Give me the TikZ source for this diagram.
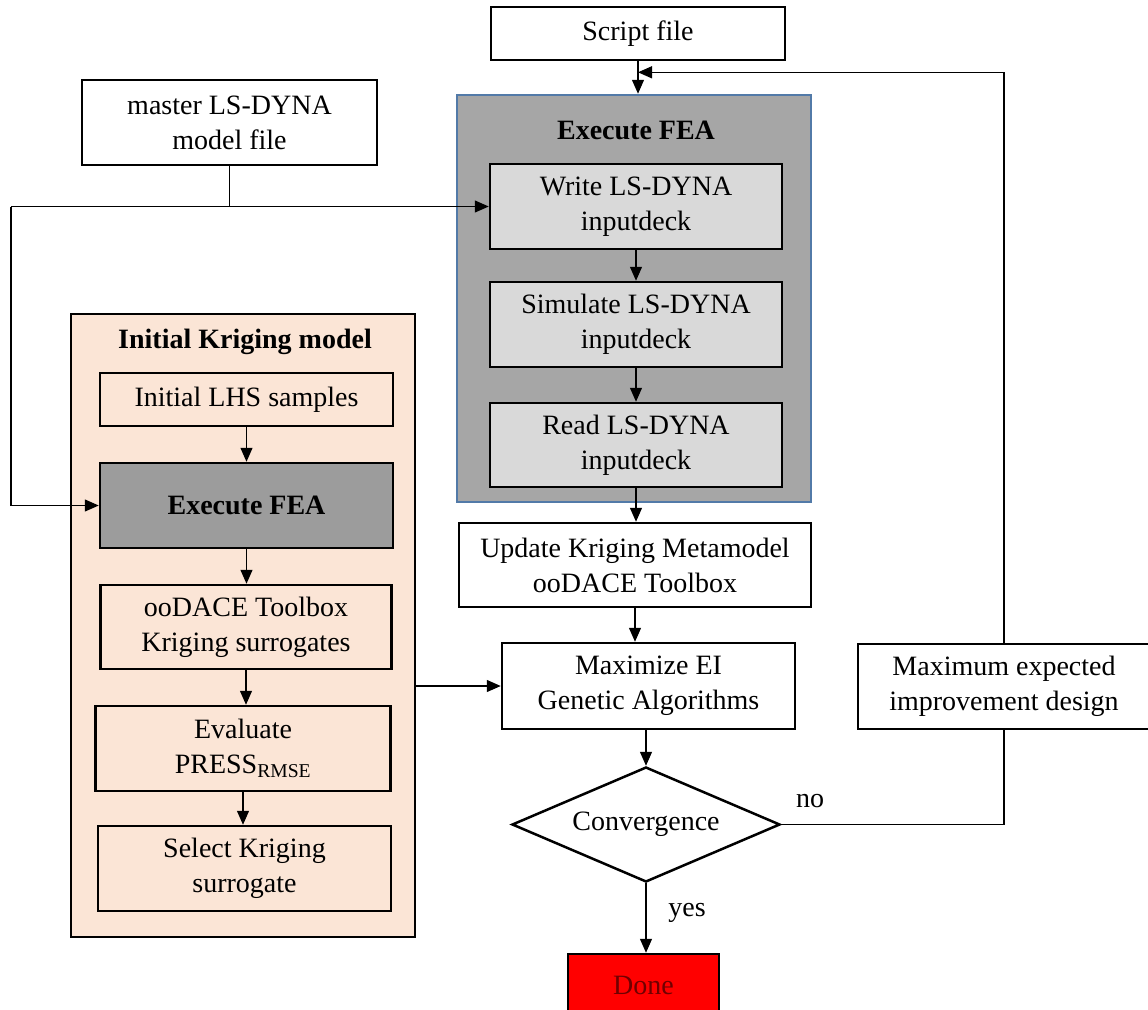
\documentclass[tikz,border=0pt]{standalone}
\usepackage{amsmath}
\usepackage{fontspec}
\setmainfont{Liberation Serif}
\usepackage{tikz}
\usetikzlibrary{shapes.geometric, arrows.meta, calc}

\definecolor{krigfill}{RGB}{251,229,214}
\definecolor{feagray}{RGB}{166,166,166}
\definecolor{feadark}{RGB}{156,156,156}
\definecolor{steplight}{RGB}{217,217,217}
\definecolor{feaedge}{RGB}{82,122,168}
\definecolor{donered}{RGB}{255,0,0}
\definecolor{donetext}{RGB}{112,0,0}

\begin{document}
\begin{tikzpicture}[x=1pt,y=1pt,yscale=-1,xscale=1,
		every node/.style={font=\fontsize{28}{35}\selectfont, inner sep=0pt, align=center},
		title/.style={font=\fontsize{28}{35}\selectfont\bfseries},
		box/.style={draw, line width=2.5pt, fill=white},
		conn/.style={line width=1.3pt},
		arr/.style={conn, -{Triangle[length=14pt,width=12pt]}}]
		\useasboundingbox (0,0) rectangle (1148,1009);

		%Shape: Rectangle [Initial Kriging model]
		\node [draw, line width=2.5pt, fill=krigfill, minimum width=344pt, minimum height=623pt] (kriging) at (243,625.5) {};
		% Text Node
		\node [title] (krigtitle) at (245,342) {Initial Kriging model};
		%Shape: Rectangle [Execute FEA group]
		\node [draw=feaedge, line width=2.5pt, fill=feagray, minimum width=354pt, minimum height=407pt] (feagroup) at (634,298.5) {};
		% Text Node
		\node [title] (featitle) at (636,130) {Execute FEA};

		%Shape: Rectangle
		\node [box, minimum width=294pt, minimum height=53pt] (script) at (638,33.5) {Script file};
		\node [box, minimum width=295pt, minimum height=85pt] (master) at (229.5,122.5) {master LS-DYNA\\model file};
		%Shape: Rectangle [inside Initial Kriging model]
		\node [box, fill=krigfill, minimum width=293pt, minimum height=53pt] (lhs) at (246.5,399.5) {Initial LHS samples};
		\node [box, fill=feadark, minimum width=293pt, minimum height=85pt, title] (fea1) at (246.5,505.5) {Execute FEA};
		\node [box, fill=krigfill, minimum width=291pt, minimum height=84pt] (oodace) at (246,627) {ooDACE Toolbox\\Kriging surrogates};
		\node [box, fill=krigfill, minimum width=295pt, minimum height=85pt] (press) at (243,748.5) {Evaluate\\PRESS$_{\text{RMSE}}$};
		\node [box, fill=krigfill, minimum width=293pt, minimum height=85pt] (select) at (244.5,868.5) {Select Kriging\\surrogate};
		%Shape: Rectangle [inside Execute FEA]
		\node [box, fill=steplight, minimum width=292pt, minimum height=85pt] (write) at (636,206.5) {Write LS-DYNA\\inputdeck};
		\node [box, fill=steplight, minimum width=292pt, minimum height=85pt] (simulate) at (636,324.5) {Simulate LS-DYNA\\inputdeck};
		\node [box, fill=steplight, minimum width=292pt, minimum height=84pt] (read) at (636,445) {Read LS-DYNA\\inputdeck};
		%Shape: Rectangle
		\node [box, minimum width=352pt, minimum height=84pt] (update) at (635,565) {Update Kriging Metamodel\\ooDACE Toolbox};
		\node [box, minimum width=293pt, minimum height=86pt] (maxei) at (648.5,686) {Maximize EI\\Genetic Algorithms};
		\node [box, minimum width=292pt, minimum height=85pt] (maxexp) at (1004,686.5) {Maximum expected\\improvement design};
		%Shape: Diamond
		\node [box, diamond, aspect=2.3, minimum width=268pt, minimum height=115pt] (conv) at (646,824.5) {Convergence};
		%Shape: Rectangle
		\node [box, fill=donered, text=donetext, minimum width=151pt, minimum height=62pt] (done) at (643.5,985) {Done};

		% Text Node
		\node (nolabel) at (810,801.5) {no};
		% Text Node
		\node (yeslabel) at (687,913) {yes};

		%Straight Lines
		\coordinate (junc) at (master.south |- write.west);
		\coordinate (lbus) at (write.west -| 11,0);
		\coordinate (merge) at ($(script.south)!0.34!(script.south |- feagroup.north)$);
		\draw [conn] (master.south) -- (junc);
		\draw [arr] (lbus) -- (write.west);
		\draw [arr] (lbus) |- (fea1.west);
		\draw [arr] (script.south) -- (script.south |- feagroup.north);
		\draw [arr] (maxexp.north) |- (merge);

		\draw [arr] (lhs.south) -- (lhs.south |- fea1.north);
		\draw [arr] (fea1.south) -- (fea1.south |- oodace.north);
		\draw [arr] (oodace.south) -- (oodace.south |- press.north);
		\draw [arr] (press.south) -- (press.south |- select.north);

		\draw [arr] (write.south) -- (simulate.north);
		\draw [arr] (simulate.south) -- (read.north);
		\draw [arr] (read.south) -- (read.south |- update.north);
		\draw [arr] (update.south) -- (update.south |- maxei.north);
		\draw [arr] (maxei.south -| conv.north) -- (conv.north);
		\draw [arr] (kriging.east |- maxei.west) -- (maxei.west);
		\draw [conn] (conv.east) -| (maxexp.south);
		\draw [arr] (conv.south) -- (conv.south |- done.north);

\end{tikzpicture}
\end{document}
